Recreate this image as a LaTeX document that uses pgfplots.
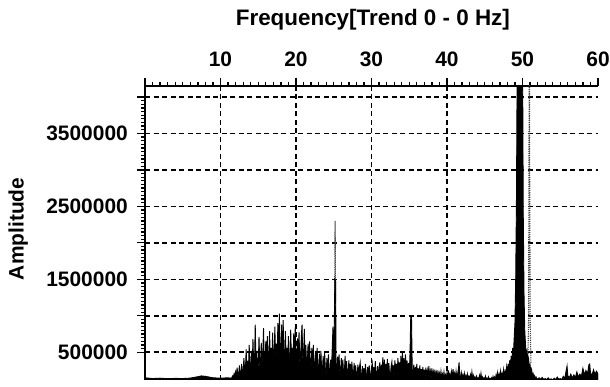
\documentclass[border=0pt]{standalone}
\usepackage{fontspec}
\setmainfont{Liberation Sans}
\usepackage{pgfplots}
\pgfplotsset{compat=1.18}
\newcommand\lblfont{\bfseries\fontsize{21}{25}\selectfont}
\begin{document}
\begin{tikzpicture}
\useasboundingbox (0,0) rectangle (610bp,387bp);
\begin{axis}[
  at={(145bp,7bp)}, anchor=south west,
  scale only axis, width=453bp, height=294bp,
  xmin=0, xmax=60, ymin=120000, ymax=4150000,
  axis x line*=top, axis y line*=left,
  axis line style={line width=2.6bp},
  tick align=outside,
  major tick length=8bp, minor tick length=4bp,
  every tick/.style={black, line width=1.3bp},
  xtick={0,10,20,30,40,50,60}, xticklabels={,10,20,30,40,50,60},
  minor x tick num=9,
  extra x ticks={10,20,30,40,50}, extra x tick labels={},
  extra x tick style={xmajorgrids=true},
  ytick={500000,1000000,1500000,2000000,2500000,3000000,3500000,4000000},
  yticklabels={500000,,1500000,,2500000,,3500000,},
  minor y tick num=9,
  ymajorgrids,
  grid style={black, line width=1.6bp, dash pattern=on 5bp off 3.5bp},
  scaled y ticks=false,
  /pgf/number format/assume math mode=true,
  ticklabel style={font=\lblfont, inner sep=0pt},
  xticklabel style={yshift=11bp},
  yticklabel style={xshift=-9bp},
  title={Frequency[Trend 0 - 0 Hz]},
  title style={font=\bfseries\fontsize{22.5}{26}\selectfont, at={(axis description cs:0.503,1.187)}, anchor=base, inner sep=0pt},
  ylabel={Amplitude},
  ylabel style={font=\lblfont, at={(axis description cs:-0.28,0.514)}, anchor=center, inner sep=0pt},
  unbounded coords=jump,
]
% secondary trace (dotted): only its 25 Hz line and the 51 Hz line rise above the main trace
\addplot[black!75, line width=1.1bp, dash pattern=on 1.2bp off 1bp]
  table[x=f, y expr=\thisrow{a}*1000, row sep=\\]{
  f a \\
  25.12 1200 \\ 25.18 2300 \\ 25.24 1200 \\
  25.3 nan \\
  50.70 350 \\ 50.80 900 \\ 50.86 3000 \\ 50.90 6000 \\ 50.95 3000 \\ 51.02 900 \\ 51.12 350 \\
};
% main spectrum, amplitude in thousands
\addplot[fill=black, draw=black, line width=0.9bp]
  table[x=f, y expr=\thisrow{a}*1000, row sep=\\]{
  f a \\
  0 150 \\ 1 140 \\ 2 145 \\ 3 138 \\ 4 142 \\ 5 140 \\ 6 146 \\ 7 165 \\ 7.5 176 \\ 8 170 \\ 8.5 160 \\ 9 150 \\ 10 145 \\ 11 150 \\ 11.4 145 \\
  11.5 150 \\ 11.6 175 \\ 11.7 160 \\ 11.8 205 \\ 11.9 165 \\
  12.0 230 \\ 12.1 170 \\ 12.2 290 \\ 12.3 175 \\ 12.4 180 \\ 12.5 320 \\ 12.6 190 \\ 12.7 200 \\ 12.8 340 \\ 12.9 210 \\
  13.0 230 \\ 13.1 420 \\ 13.2 240 \\ 13.3 250 \\ 13.4 540 \\ 13.5 260 \\ 13.6 380 \\ 13.7 250 \\ 13.8 600 \\ 13.9 270 \\
  14.0 290 \\ 14.1 520 \\ 14.2 300 \\ 14.3 680 \\ 14.4 310 \\ 14.5 320 \\ 14.6 880 \\ 14.7 330 \\ 14.8 520 \\ 14.9 300 \\
  15.0 310 \\ 15.1 710 \\ 15.2 330 \\ 15.3 340 \\ 15.4 630 \\ 15.5 320 \\ 15.6 480 \\ 15.7 830 \\ 15.8 340 \\ 15.9 350 \\
  16.0 650 \\ 16.1 340 \\ 16.2 720 \\ 16.3 360 \\ 16.4 380 \\ 16.5 790 \\ 16.6 370 \\ 16.7 560 \\ 16.8 350 \\ 16.9 770 \\
  17.0 390 \\ 17.1 400 \\ 17.2 850 \\ 17.3 410 \\ 17.4 620 \\ 17.5 400 \\ 17.6 900 \\ 17.7 420 \\ 17.8 1030 \\ 17.9 440 \\
  18.0 460 \\ 18.1 880 \\ 18.2 430 \\ 18.3 940 \\ 18.4 420 \\ 18.5 400 \\ 18.6 790 \\ 18.7 380 \\ 18.8 560 \\ 18.9 370 \\
  19.0 720 \\ 19.1 360 \\ 19.2 350 \\ 19.3 810 \\ 19.4 370 \\ 19.5 560 \\ 19.6 350 \\ 19.7 760 \\ 19.8 380 \\ 19.9 850 \\
  20.0 390 \\ 20.1 370 \\ 20.2 690 \\ 20.3 350 \\ 20.4 780 \\ 20.5 360 \\ 20.6 380 \\ 20.7 700 \\ 20.8 880 \\ 20.9 390 \\
  21.0 410 \\ 21.1 820 \\ 21.2 370 \\ 21.3 600 \\ 21.4 340 \\ 21.5 330 \\ 21.6 620 \\ 21.7 320 \\ 21.8 650 \\ 21.9 300 \\
  22.0 290 \\ 22.1 560 \\ 22.2 300 \\ 22.3 600 \\ 22.4 280 \\ 22.5 270 \\ 22.6 520 \\ 22.7 280 \\ 22.8 560 \\ 22.9 260 \\
  23.0 250 \\ 23.1 480 \\ 23.2 260 \\ 23.3 520 \\ 23.4 240 \\ 23.5 250 \\ 23.6 450 \\ 23.7 240 \\ 23.8 490 \\ 23.9 230 \\
  24.0 220 \\ 24.1 420 \\ 24.2 230 \\ 24.3 470 \\ 24.4 220 \\ 24.5 240 \\ 24.6 400 \\ 24.7 250 \\ 24.8 560 \\ 24.9 850 \\
  25.0 300 \\ 25.1 1120 \\ 25.15 1500 \\ 25.25 1480 \\ 25.3 300 \\
  25.4 230 \\ 25.5 440 \\ 25.6 220 \\ 25.7 470 \\ 25.8 230 \\ 25.9 210 \\ 26.0 420 \\ 26.1 220 \\ 26.2 400 \\ 26.3 210 \\
  26.4 200 \\ 26.5 450 \\ 26.6 210 \\ 26.7 380 \\ 26.8 200 \\ 26.9 190 \\ 27.0 390 \\ 27.1 200 \\ 27.2 340 \\ 27.3 190 \\
  27.4 370 \\ 27.5 190 \\ 27.6 180 \\ 27.7 350 \\ 27.8 190 \\ 27.9 320 \\ 28.0 180 \\ 28.1 175 \\ 28.2 330 \\ 28.3 180 \\
  28.4 290 \\ 28.5 360 \\ 28.6 180 \\ 28.7 170 \\ 28.8 310 \\ 28.9 175 \\ 29.0 280 \\ 29.1 170 \\ 29.2 340 \\ 29.3 175 \\
  29.4 170 \\ 29.5 300 \\ 29.6 170 \\ 29.7 320 \\ 29.8 175 \\ 29.9 165 \\ 30.0 290 \\ 30.1 350 \\ 30.2 175 \\ 30.3 300 \\
  30.4 170 \\ 30.5 380 \\ 30.6 180 \\ 30.7 175 \\ 30.8 310 \\ 30.9 170 \\ 31.0 280 \\ 31.1 360 \\ 31.2 180 \\ 31.3 330 \\
  31.4 185 \\ 31.5 430 \\ 31.6 190 \\ 31.7 400 \\ 31.8 185 \\ 31.9 340 \\ 32.0 180 \\ 32.1 410 \\ 32.2 190 \\ 32.3 350 \\
  32.4 180 \\ 32.5 175 \\ 32.6 310 \\ 32.7 370 \\ 32.8 180 \\ 32.9 320 \\ 33.0 175 \\ 33.1 390 \\ 33.2 185 \\ 33.3 340 \\
  33.4 180 \\ 33.5 420 \\ 33.6 190 \\ 33.7 360 \\ 33.8 195 \\ 33.9 450 \\ 34.0 200 \\ 34.1 500 \\ 34.2 210 \\ 34.3 420 \\
  34.4 200 \\ 34.5 470 \\ 34.6 210 \\ 34.7 390 \\ 34.8 200 \\ 34.9 350 \\ 35.0 190 \\ 35.1 480 \\ 35.2 990 \\ 35.3 980 \\
  35.4 200 \\ 35.5 180 \\ 35.6 330 \\ 35.7 170 \\ 35.8 300 \\ 35.9 165 \\ 36.0 340 \\ 36.1 170 \\ 36.2 280 \\ 36.3 160 \\
  36.4 320 \\ 36.5 165 \\ 36.6 270 \\ 36.7 155 \\ 36.8 300 \\ 36.9 160 \\ 37.0 260 \\ 37.1 150 \\ 37.2 290 \\ 37.3 160 \\
  37.4 250 \\ 37.5 150 \\ 37.6 310 \\ 37.7 160 \\ 37.8 240 \\ 37.9 145 \\ 38.0 280 \\ 38.1 150 \\ 38.2 230 \\ 38.3 145 \\
  38.4 260 \\ 38.5 150 \\ 38.6 220 \\ 38.7 140 \\ 38.8 250 \\ 38.9 145 \\ 39.0 210 \\ 39.1 140 \\ 39.2 240 \\ 39.3 145 \\
  39.4 200 \\ 39.5 135 \\ 39.6 230 \\ 39.7 140 \\ 39.8 190 \\ 39.9 135 \\ 40.0 220 \\ 40.1 140 \\ 40.2 250 \\ 40.3 145 \\
  40.4 200 \\ 40.5 135 \\ 40.6 230 \\ 40.7 140 \\ 40.8 270 \\ 40.9 150 \\ 41.0 210 \\ 41.1 135 \\ 41.2 240 \\ 41.3 145 \\
  41.4 200 \\ 41.5 260 \\ 41.6 360 \\ 41.7 160 \\ 41.8 150 \\ 41.9 220 \\ 42.0 135 \\ 42.1 190 \\ 42.2 130 \\ 42.3 210 \\
  42.4 135 \\ 42.5 180 \\ 42.6 128 \\ 42.7 200 \\ 42.8 130 \\ 42.9 170 \\ 43.0 125 \\ 43.1 190 \\ 43.2 130 \\ 43.3 230 \\
  43.4 135 \\ 43.5 180 \\ 43.6 125 \\ 43.7 160 \\ 43.8 122 \\ 43.9 170 \\ 44.0 125 \\ 44.1 150 \\ 44.2 122 \\ 44.3 180 \\
  44.4 128 \\ 44.5 210 \\ 44.6 130 \\ 44.7 160 \\ 44.8 122 \\ 44.9 150 \\ 45.0 122 \\ 45.1 170 \\ 45.2 125 \\ 45.3 145 \\
  45.4 122 \\ 45.5 160 \\ 45.6 125 \\ 45.7 140 \\ 45.8 122 \\ 45.9 150 \\ 46.0 125 \\ 46.1 170 \\ 46.2 130 \\ 46.3 160 \\
  46.4 128 \\ 46.5 190 \\ 46.6 135 \\ 46.7 220 \\ 46.8 145 \\ 46.9 200 \\ 47.0 140 \\ 47.1 240 \\ 47.2 155 \\ 47.3 210 \\
  47.4 150 \\ 47.5 260 \\ 47.6 170 \\ 47.7 240 \\ 47.8 185 \\ 47.9 300 \\ 48.0 210 \\ 48.1 340 \\ 48.2 250 \\ 48.3 390 \\
  48.4 300 \\ 48.5 450 \\ 48.6 360 \\ 48.7 560 \\ 48.8 480 \\ 48.9 700 \\ 49.0 900 \\ 49.1 1500 \\ 49.2 2600 \\ 49.3 4500 \\
  49.4 6000 \\ 49.5 6000 \\ 49.6 6000 \\ 49.7 6000 \\ 49.8 6000 \\ 49.9 6000 \\ 50.0 4800 \\ 50.1 2400 \\ 50.2 1300 \\ 50.3 800 \\
  50.4 600 \\ 50.5 480 \\ 50.6 520 \\ 50.7 380 \\ 50.8 420 \\ 50.9 300 \\ 51.0 330 \\ 51.1 240 \\ 51.2 270 \\ 51.3 190 \\
  51.4 210 \\ 51.5 160 \\ 51.6 180 \\ 51.7 140 \\ 51.8 160 \\ 51.9 130 \\
  52.2 150 \\ 52.4 130 \\ 52.6 155 \\ 52.8 128 \\ 53.0 140 \\ 53.2 125 \\ 53.4 150 \\ 53.6 125 \\ 53.8 135 \\ 54.0 122 \\
  54.2 145 \\ 54.4 125 \\ 54.6 160 \\ 54.8 130 \\ 55.0 140 \\ 55.2 125 \\ 55.4 170 \\ 55.6 140 \\ 55.8 260 \\ 55.9 310 \\
  56.0 180 \\ 56.2 150 \\ 56.4 200 \\ 56.6 145 \\ 56.8 190 \\ 57.0 150 \\ 57.2 230 \\ 57.4 160 \\ 57.6 200 \\ 57.8 170 \\
  58.0 280 \\ 58.2 190 \\ 58.4 250 \\ 58.6 200 \\ 58.8 330 \\ 58.9 340 \\ 59.0 220 \\ 59.2 180 \\ 59.4 260 \\ 59.6 200 \\
  59.8 240 \\ 60.0 200 \\
} \closedcycle;
\end{axis}
\end{tikzpicture}
\end{document}
